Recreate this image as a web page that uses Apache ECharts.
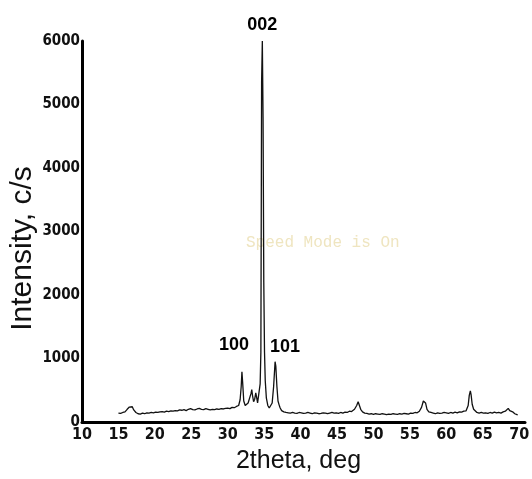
<!DOCTYPE html>
<html>
<head>
<meta charset="utf-8">
<script src="https://cdn.jsdelivr.net/npm/echarts@6/dist/echarts.min.js"></script>
<style>
html,body{margin:0;padding:0;background:#fff;}
#chart{width:532px;height:479px;}
</style>
</head>
<body>
<div id="chart"></div>
<script>
var twoTheta = [
15.0,15.3,15.6,15.9,16.2,16.5,16.7,16.9,17.1,17.4,17.7,18.0,18.3,18.6,18.9,19.2,19.5,19.8,
20.1,20.4,20.7,21.0,21.3,21.6,21.9,22.2,22.5,22.8,23.1,23.4,23.7,24.0,24.3,24.6,24.9,
25.2,25.5,25.8,26.1,26.4,26.7,27.0,27.3,27.6,27.9,28.2,28.5,28.8,29.1,29.4,29.7,
30.0,30.3,30.6,30.9,31.2,31.5,31.7,31.85,31.95,32.05,32.2,32.4,32.6,32.8,33.0,33.2,33.3,33.4,
33.55,33.7,33.85,33.95,34.1,34.3,34.45,34.55,34.65,34.75,34.85,34.95,35.05,35.15,35.3,35.5,35.7,35.9,
36.1,36.3,36.5,36.6,36.75,36.9,37.05,37.2,37.4,37.7,38.0,38.3,38.6,38.9,39.2,39.5,39.8,
40.1,40.4,40.7,41.0,41.3,41.6,41.9,42.2,42.5,42.8,43.1,43.4,43.7,44.0,44.3,44.6,44.9,
45.2,45.5,45.8,46.1,46.4,46.7,47.0,47.4,47.7,47.9,48.05,48.25,48.5,48.8,49.1,49.4,49.7,
50.0,50.3,50.6,50.9,51.2,51.5,51.8,52.1,52.4,52.7,53.0,53.3,53.6,53.9,54.2,54.5,54.8,
55.1,55.4,55.7,56.0,56.3,56.6,56.85,57.0,57.15,57.35,57.6,57.9,58.2,58.5,58.8,59.1,59.4,59.7,
60.0,60.3,60.6,60.9,61.2,61.5,61.8,62.1,62.4,62.7,63.0,63.15,63.3,63.4,63.55,63.75,63.95,64.2,64.5,64.8,
65.1,65.4,65.7,66.0,66.3,66.6,66.9,67.2,67.5,67.8,68.1,68.3,68.5,68.7,68.9,69.1,69.4,69.7,69.8
];
var intensity = [
140,135,150,160,200,235,215,240,190,150,130,125,140,130,145,140,150,145,
155,150,160,165,155,170,165,175,170,180,175,190,185,195,180,200,210,
195,190,205,215,200,195,210,200,190,200,195,205,200,210,205,215,
220,210,230,225,245,260,350,560,790,620,330,260,270,300,330,450,510,420,
320,360,460,400,300,320,600,1100,5350,6000,4800,2200,1100,650,380,260,220,240,
300,560,950,880,560,330,270,220,180,160,150,145,140,150,140,135,150,
145,135,140,150,140,130,145,140,130,135,145,140,130,140,150,140,145,
135,150,140,155,150,170,165,200,260,320,290,200,160,140,135,125,130,
120,130,125,120,130,125,115,125,120,130,125,120,130,125,135,130,125,
140,135,150,145,170,230,330,355,300,200,160,150,140,130,145,135,140,150,
145,135,150,140,155,145,160,155,170,175,260,420,490,430,280,200,170,150,140,150,
140,145,135,150,140,155,145,150,140,160,170,200,215,180,190,160,130,115,110
];
// peak labels (hkl) and the peak they belong to
var peakNames = ['002','100','101'];
var peakTheta = [34.75, 31.95, 36.5];
var peakIntensity = [6000, 790, 950];
var xTicks = [10,15,20,25,30,35,40,45,50,55,60,65,70];

var seriesData = twoTheta.map(function(t,i){return [t,intensity[i]];});
var labelOffsets = [[0,-16],[-8,-27],[10,-15]];
var markData = peakNames.map(function(n,i){
  return {
    name:n, coord:[peakTheta[i],peakIntensity[i]], value:n,
    label:{offset:labelOffsets[i]}
  };
});

var narrow = "'Liberation Sans Narrow','DejaVu Sans Condensed',sans-serif";
var chart = echarts.init(document.getElementById('chart'),null,{renderer:'canvas'});
chart.setOption({
  animation:false,
  backgroundColor:'#ffffff',
  grid:{left:82,right:7,top:41,bottom:57,containLabel:false,outerBoundsMode:'none'},
  xAxis:{
    type:'value', min:10, max:70.8, interval:5,
    name:'2theta, deg', nameLocation:'middle', nameGap:27, nameMoveOverlap:false,
    nameTextStyle:{fontFamily:'Liberation Sans, Arial, sans-serif',fontSize:25,color:'#111',padding:[0,10,0,0]},
    axisLine:{show:true,onZero:false,lineStyle:{color:'#000',width:3}},
    axisTick:{show:false},
    splitLine:{show:false},
    axisLabel:{customValues:xTicks,fontFamily:narrow,fontWeight:'bold',fontSize:16,color:'#111',margin:5}
  },
  yAxis:{
    type:'value', min:0, max:6000, interval:1000,
    name:'Intensity, c/s', nameLocation:'middle', nameGap:44, nameRotate:90, nameMoveOverlap:false,
    nameTextStyle:{fontFamily:'Liberation Sans, Arial, sans-serif',fontSize:30,color:'#111',padding:[0,34,0,0]},
    axisLine:{show:true,lineStyle:{color:'#000',width:3}},
    axisTick:{show:false},
    splitLine:{show:false},
    axisLabel:{fontFamily:narrow,fontWeight:'bold',fontSize:15,color:'#111',margin:2,padding:[0,0,4,0],
      formatter:function(v){return String(v);}}
  },
  graphic:[{
    type:'text', left:246, top:235, silent:true,
    style:{text:'Speed Mode is On',fontFamily:"'Liberation Mono','DejaVu Sans Mono',monospace",fontSize:16,fill:'#efe5c0'}
  }],
  series:[{
    type:'line', data:seriesData, showSymbol:false, symbol:'none',
    lineStyle:{color:'#111',width:1.3},
    clip:false,
    markPoint:{
      symbol:'circle', symbolSize:0, silent:true,
      label:{show:true,formatter:'{b}',fontFamily:'Liberation Sans, Arial, sans-serif',fontWeight:'bold',fontSize:18,color:'#000'},
      data:markData
    }
  }]
});
</script>
</body>
</html>
